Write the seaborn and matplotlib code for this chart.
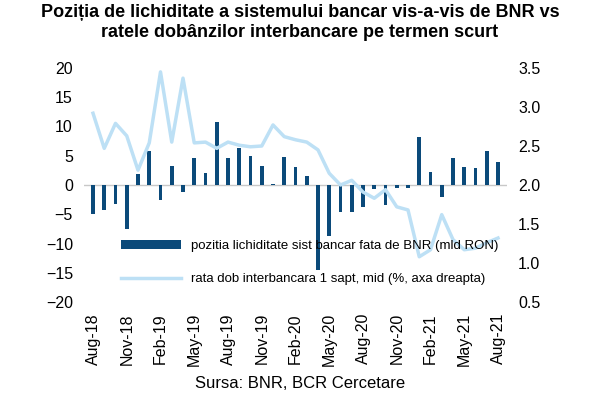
import matplotlib
matplotlib.use("Agg")
import matplotlib.pyplot as plt
import seaborn as sns
import pandas as pd
import numpy as np

plt.rcParams["font.family"] = "Liberation Sans"

months = pd.date_range("2018-08-01", "2021-08-01", freq="MS")
lichiditate = [-5.0, -4.2, -3.3, -7.5, 1.8, 5.8, -2.5, 3.3, -1.2, 4.6, 2.1, 10.7,
               4.6, 6.3, 5.0, 3.3, 0.1, 4.8, 3.0, 1.6, -14.6, -8.7, -4.6, -4.6,
               -3.7, -0.7, -3.4, -0.5, -0.5, 8.2, 2.2, -2.0, 4.6, 3.1, 2.9, 5.8, 3.9]
rata = [2.92, 2.47, 2.79, 2.63, 2.19, 2.54, 3.45, 2.55, 3.37, 2.54, 2.55, 2.47,
        2.55, 2.51, 2.49, 2.50, 2.77, 2.62, 2.58, 2.55, 2.45, 2.15, 2.0, 2.06,
        1.91, 1.83, 1.94, 1.72, 1.68, 1.08, 1.17, 1.62, 1.30, 1.17, 1.19, 1.26, 1.32]
labels = [m.strftime("%b-%y") for m in months]

df = pd.DataFrame({"idx": np.arange(len(months)), "lich": lichiditate, "rata": rata})

fig, ax = plt.subplots(figsize=(6, 4), dpi=100)
fig.subplots_adjust(left=0.14, right=0.845, top=0.83, bottom=0.245)
ax2 = ax.twinx()

ax.bar(df["idx"], df["lich"], width=0.35, color="#0b4a7a",
       label="pozitia lichiditate sist bancar fata de BNR (mld RON)", zorder=3)
sns.lineplot(x="idx", y="rata", data=df, ax=ax2, color="#bde0f5", lw=2.5,
             label="rata dob interbancara 1 sapt, mid (%, axa dreapta)")

ax.axhline(0, color="#c8c8c8", lw=1, zorder=1)
ax.set_ylim(-20, 20)
ax.set_yticks(range(-20, 21, 5))
ax2.set_ylim(0.5, 3.5)
ax2.set_yticks(np.arange(0.5, 3.6, 0.5))
ax2.set_yticklabels([f"{v:.1f}" for v in np.arange(0.5, 3.6, 0.5)])
ax2.set_ylabel("")
ax2.set_xlabel("")
ax.set_xlim(-0.8, len(months) - 0.2)
ax.set_xticks(df["idx"][::3])
ax.set_xticklabels(labels[::3], rotation=90)
for a in (ax, ax2):
    for s in a.spines.values():
        s.set_visible(False)
    a.tick_params(length=0, labelsize=11.5, pad=8)

h1, l1 = ax.get_legend_handles_labels()
h2, l2 = ax2.get_legend_handles_labels()
ax2.legend(h1 + h2, l1 + l2, loc="lower left", bbox_to_anchor=(0.06, 0.02),
           frameon=False, fontsize=9.5, handlelength=4.5, labelspacing=1.6)

fig.suptitle("Poziția de lichiditate a sistemului bancar vis-a-vis de BNR vs\n"
             "ratele dobânzilor interbancare pe termen scurt",
             fontsize=13, fontweight="bold", y=0.99)
fig.text(0.5, 0.03, "Sursa: BNR, BCR Cercetare", ha="center", fontsize=12)
fig.savefig("out.png")
